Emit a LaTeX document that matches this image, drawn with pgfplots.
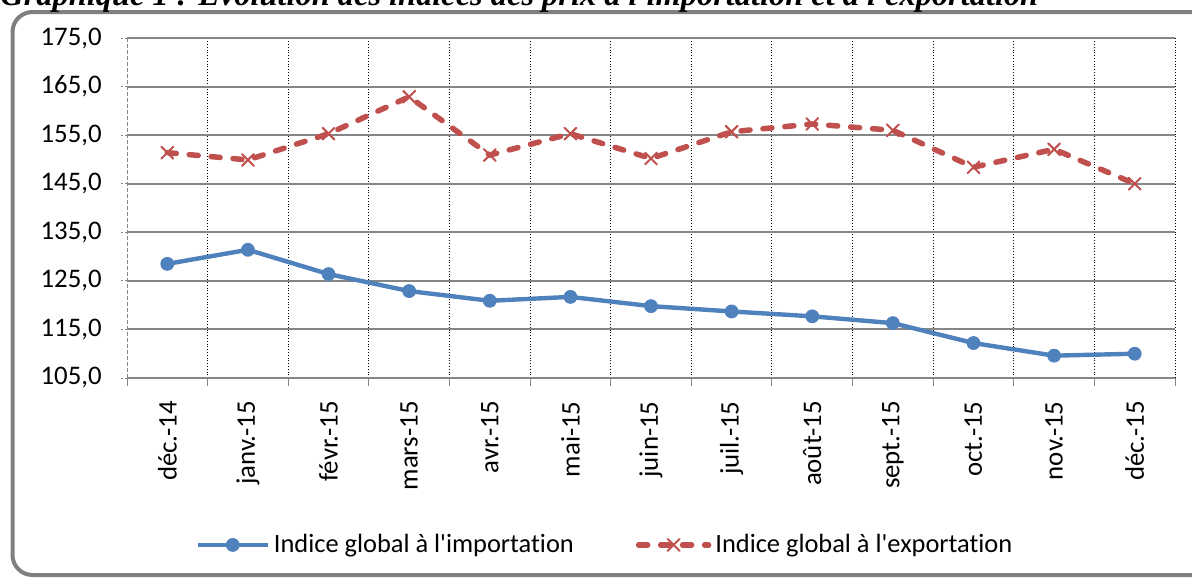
\documentclass[border=0pt]{standalone}
\usepackage{pgfplots}
\pgfplotsset{compat=1.18}
\usepackage{fontspec}
\setmainfont{Carlito}[Ligatures=NoCommon]
\newfontfamily\seriffont{Liberation Serif}
\definecolor{impcol}{HTML}{4F81BD}
\definecolor{expcol}{HTML}{C0504D}
\definecolor{gridgray}{HTML}{868686}
\definecolor{boxgray}{HTML}{7F7F7F}
\begin{document}
\begin{tikzpicture}
\useasboundingbox (0,0) rectangle (596pt,-289.5pt);
\clip (0,0) rectangle (596pt,-289.5pt);
\draw[boxgray, line width=2pt, rounded corners=10pt] (6.25pt,-6pt) rectangle (610pt,-287.5pt);
\node[anchor=base west, inner sep=0pt, font=\seriffont\bfseries\itshape\fontsize{16.2}{18}\selectfont] at (0pt,-2.5pt) {Graphique 1 : Évolution des indices des prix à l\textquotesingle importation et à l\textquotesingle exportation};
\begin{axis}[
  at={(63.5pt,-189pt)}, anchor=south west,
  scale only axis, width=524pt, height=170pt,
  xmin=-0.5, xmax=12.5, ymin=105, ymax=175,
  axis x line*=bottom, axis y line*=left,
  x axis line style={gridgray, line width=1pt, -},
  y axis line style={gridgray, dash pattern=on 2pt off 1pt, line width=0.5pt, -},
  tick align=outside,
  xtick={0,...,12},
  xticklabels={déc.-14,janv.-15,févr.-15,mars-15,avr.-15,mai-15,juin-15,juil.-15,août-15,sept.-15,oct.-15,nov.-15,déc.-15},
  major x tick style={draw=none},
  minor xtick={0.5,1.5,...,12.5},
  xminorgrids,
  minor x grid style={black, densely dotted, line width=0.5pt},
  minor tick length=4pt,
  minor x tick style={gridgray, line width=0.5pt},
  extra x ticks={-0.5}, extra x tick labels={},
  extra x tick style={grid=none, major x tick style={draw=gridgray, line width=0.5pt}, major tick length=4pt},
  ytick={105,115,...,175},
  ymajorgrids,
  major y grid style={gridgray, line width=1pt},
  y tick style={gridgray, dash pattern=on 1pt off 1pt, line width=0.5pt},
  major tick length=3pt,
  tick label style={font=\fontsize{13.4}{15}\selectfont},
  xticklabel style={rotate=90, anchor=east, inner sep=0pt},
  xticklabel shift=8.5pt,
  yticklabel style={inner sep=0pt, /pgf/number format/.cd, fixed, fixed zerofill, precision=1, use comma, assume math mode=true},
  yticklabel shift=9.5pt,
  legend style={at={(0.457,-0.491)}, anchor=center, draw=none, fill=none, legend columns=2,
    font=\fontsize{13.2}{15}\selectfont, /tikz/every even column/.append style={column sep=29pt}},
  legend image code/.code={\draw[mark repeat=2, mark phase=2] plot coordinates {(0pt,0pt) (17.5pt,0pt) (35pt,0pt)};},
]
\addplot[impcol, line width=2.2pt, mark=*, mark size=3.2pt, mark options={fill=impcol, solid, line width=0.5pt}]
  coordinates {(0,128.5) (1,131.4) (2,126.4) (3,122.9) (4,120.9) (5,121.7) (6,119.8) (7,118.7) (8,117.7) (9,116.3) (10,112.2) (11,109.6) (12,110.0)};
\addlegendentry{Indice global à l\textquotesingle importation}
\addplot[expcol, line width=2.75pt, line cap=round, dash pattern=on 4.5pt off 6.5pt, mark=x, mark size=4.2pt, mark options={solid, line width=1pt}]
  coordinates {(0,151.4) (1,149.9) (2,155.3) (3,162.9) (4,150.9) (5,155.3) (6,150.2) (7,155.7) (8,157.3) (9,156.0) (10,148.4) (11,152.1) (12,145.0)};
\addlegendentry{Indice global à l\textquotesingle exportation}
\end{axis}
\end{tikzpicture}
\end{document}
